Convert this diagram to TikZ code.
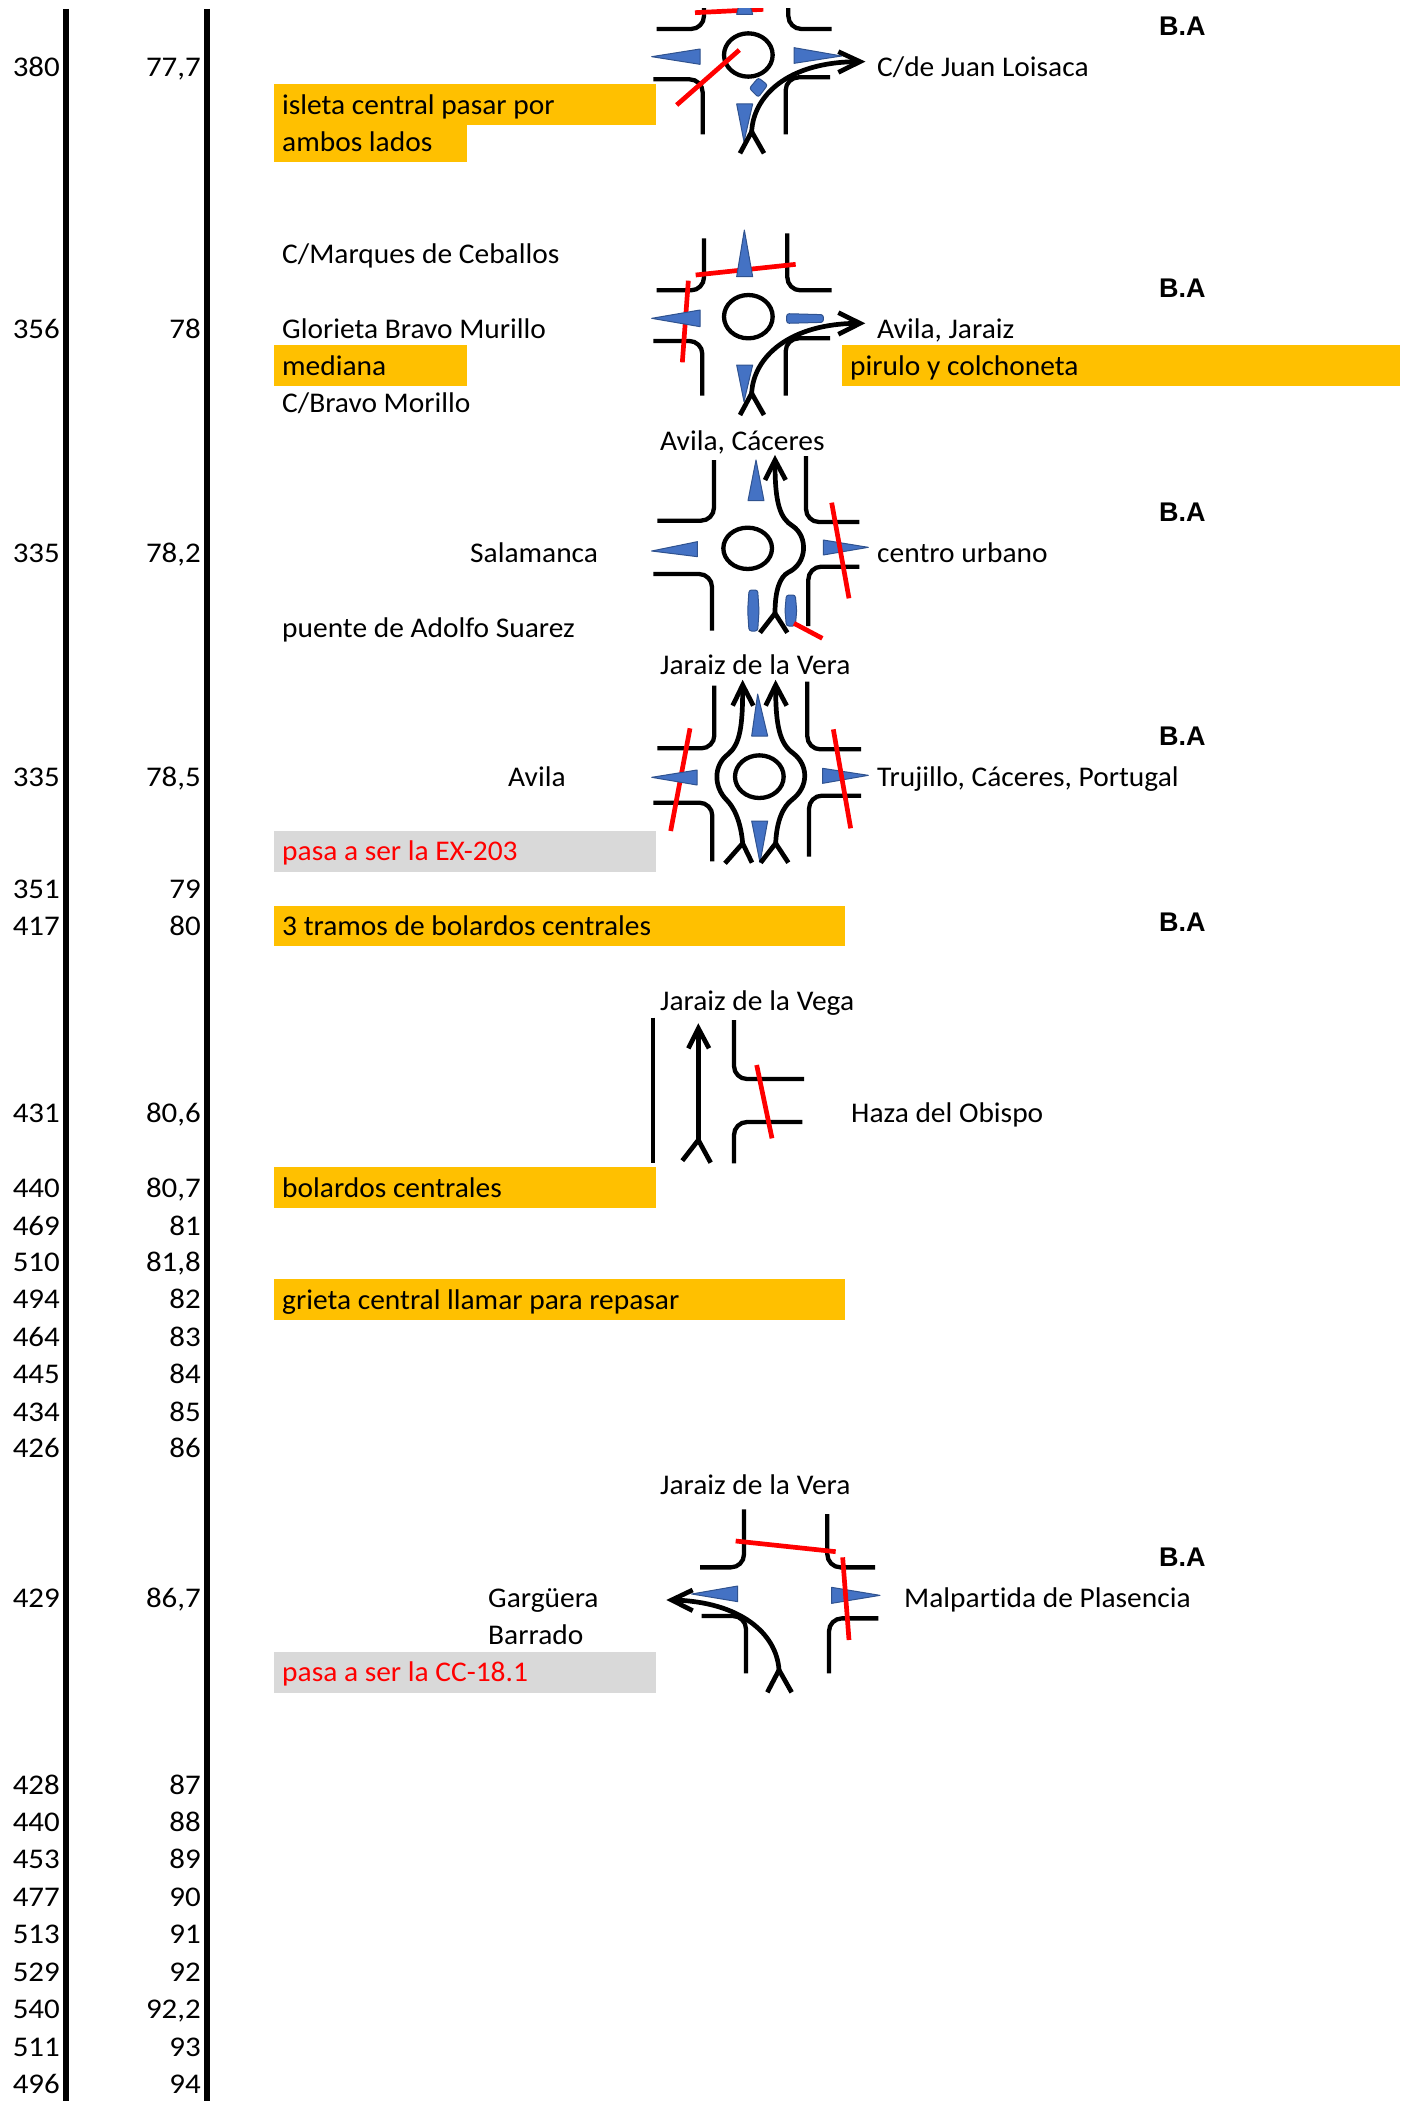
\documentclass[tikz,border=0pt]{standalone}
\usepackage{fontspec}
\setmainfont[FakeStretch=1.033,Ligatures=NoCommon]{Carlito}
\newfontfamily\numfont[FakeStretch=1.085]{Carlito}
\newfontfamily\arialfont{Liberation Sans}
\tikzset{
  tx/.style={inner sep=0pt,anchor=base west,font=\fontsize{28.5}{30}\selectfont,text=black},
  txr/.style={inner sep=0pt,anchor=base east,font=\numfont\fontsize{28.5}{30}\selectfont,text=black},
  redtx/.style={tx,text=red},
  ba/.style={inner sep=0pt,anchor=base west,font=\arialfont\bfseries\fontsize{27}{28}\selectfont},
  orangebar/.style={fill=barorange,draw=none},
  greybar/.style={fill=bargrey,draw=none},
  frameline/.style={line width=6pt,draw=black},
  road/.style={line width=4.3pt,draw=black,rounded corners=13pt},
  ring/.style={line width=4.3pt,draw=black},
  route/.style={line width=4.7pt,draw=black,line join=miter},
  cut/.style={line width=4.7pt,draw=red},
  island/.style={fill=islandblue,draw=islandedge,line width=1pt,line join=round},
  bar/.style={island,rounded corners=2.5pt},
  zoomed/.style={scale=0.33333},
}
\definecolor{barorange}{HTML}{FFC000}
\definecolor{bargrey}{HTML}{D9D9D9}
\definecolor{islandblue}{HTML}{4472C4}
\definecolor{islandedge}{HTML}{2F528F}
\begin{document}
\begin{tikzpicture}[x=1pt,y=-1pt]
\useasboundingbox (0,0) rectangle (1407,2101);
% frame lines
\draw[frameline] (66,9) -- (66,2101);
\draw[frameline] (207,9) -- (207,2101);
% coloured bars
\fill[orangebar] (274,84) rectangle (656,125);
\fill[orangebar] (274,125) rectangle (467,162);
\fill[orangebar] (274,345) rectangle (467,386);
\fill[orangebar] (842,345) rectangle (1400,386);
\fill[greybar] (274,831) rectangle (656,872);
\fill[orangebar] (274,906) rectangle (845,946);
\fill[orangebar] (274,1167) rectangle (656,1208);
\fill[orangebar] (274,1279) rectangle (845,1320);
\fill[greybar] (274,1652) rectangle (656,1693);
% number columns
\foreach \y/\a/\b [count=\i] in {67/380/{77,7},328/356/78,552/335/{78,2},776/335/{78,5},888.4/351/79,925/417/80,1112/431/{80,6},1187/440/{80,7},1225/469/81,1261/510/{81,8},1298/494/82,1336/464/83,1373/445/84,1411/434/85,1447/426/86,1597/429/{86,7},1784/428/87,1821/440/88,1858/453/89,1896/477/90,1933/513/91,1971/529/92,2008/540/{92,2},2046/511/93,2083/496/94}{
  \node[txr] (alt\i) at (60,\y+10) {\a};
  \node[txr] (km\i) at (201,\y+10) {\b};
}
% texts
\node[tx] (t1) at (282,114) {isleta central pasar por};
\node[tx] (t2) at (282,151.5) {ambos lados};
\node[tx] (t3) at (877,77) {C/de Juan Loisaca};
\node[tx] (t4) at (282,263) {C/Marques de Ceballos};
\node[tx] (t5) at (282,338) {Glorieta Bravo Murillo};
\node[tx] (t6) at (282,375.5) {mediana};
\node[tx] (t7) at (282,412) {C/Bravo Morillo};
\node[tx] (t8) at (877,338) {Avila, Jaraiz};
\node[tx] (t9) at (850,375.5) {pirulo y colchoneta};
\node[tx] (t10) at (660,450.5) {Avila, Cáceres};
\node[tx] (t11) at (470,562) {Salamanca};
\node[tx] (t12) at (877,562) {centro urbano};
\node[tx] (t13) at (282,637) {puente de Adolfo Suarez};
\node[tx] (t14) at (660,674.5) {Jaraiz de la Vera};
\node[tx] (t15) at (508,786) {Avila};
\node[tx] (t16) at (877,786) {Trujillo, Cáceres, Portugal};
\node[redtx] (t17) at (282,860.5) {pasa a ser la EX-203};
\node[tx] (t18) at (282,935.5) {3 tramos de bolardos centrales};
\node[tx] (t19) at (660,1010.5) {Jaraiz de la Vega};
\node[tx] (t20) at (851,1122) {Haza del Obispo};
\node[tx] (t21) at (282,1197) {bolardos centrales};
\node[tx] (t22) at (282,1309) {grieta central llamar para repasar};
\node[tx] (t23) at (660,1494.5) {Jaraiz de la Vera};
\node[tx] (t24) at (488,1607) {Gargüera};
\node[tx] (t25) at (488,1644.5) {Barrado};
\node[tx] (t26) at (904,1607) {Malpartida de Plasencia};
\node[redtx] (t27) at (282,1681.5) {pasa a ser la CC-18.1};
% B.A
\node[ba] (b1) at (1159,36) {B.A};
\node[ba] (b2) at (1159,297) {B.A};
\node[ba] (b3) at (1159,521) {B.A};
\node[ba] (b4) at (1159,745) {B.A};
\node[ba] (b5) at (1159,931) {B.A};
\node[ba] (b6) at (1159,1566) {B.A};
% roundabout 1
\begin{scope}
\clip (600,9) rectangle (900,200);
\begin{scope}[shift={(620,0)},zoomed]
\draw[road] (110,87) -- (252,87) -- (252,0);
\draw[road] (505,0) -- (505,87) -- (635,87);
\draw[road] (100,238) -- (248,238) -- (248,403);
\draw[road] (630,232) -- (497,232) -- (497,403);
\draw[ring] (385,165) ellipse [x radius=73,y radius=65];
\draw[cut] (170,315) -- (358,150);
\draw[cut] (225,38) -- (430,28);
\draw[island] (95,170) -- (240,147) -- (240,193) -- cycle;
\draw[island] (522,143) -- (522,190) -- (665,168) -- cycle;
\draw[island] (350,43) -- (398,43) -- (373,-40) -- cycle;
\draw[island] (350,312) -- (398,312) -- (372,425) -- cycle;
\draw[bar] (415,233) -- (443,255) -- (415,292) -- (388,265) -- cycle;
\draw[route] (395,395) .. controls (400,290) and (500,185) .. (715,185);
\draw[route] (655,155) -- (720,185) -- (655,217);
\draw[route] (360,460) -- (395,395) -- (432,460);
\end{scope}
\end{scope}
% roundabout 2
\begin{scope}[shift={(620,220)},zoomed]
\draw[road] (252,55) -- (252,211) -- (110,211);
\draw[road] (502,40) -- (502,211) -- (635,211);
\draw[road] (100,363) -- (247,363) -- (247,527);
\draw[road] (630,355) -- (497,355) -- (497,527);
\draw[ring] (385,290) ellipse [x radius=73,y radius=65];
\draw[cut] (227,165) -- (527,133);
\draw[cut] (205,182) -- (187,427);
\draw[island] (95,295) -- (240,270) -- (240,320) -- cycle;
\draw[island] (373,30) -- (398,170) -- (350,170) -- cycle;
\draw[island] (350,435) -- (398,435) -- (372,545) -- cycle;
\draw[bar] (500,281) -- (610,284) -- (610,307) -- (500,310) -- cycle;
\draw[route] (395,520) .. controls (400,410) and (510,310) .. (715,310);
\draw[route] (655,278) -- (720,310) -- (655,343);
\draw[route] (360,585) -- (395,520) -- (432,585);
\end{scope}
% roundabout 3
\begin{scope}[shift={(620,440)},zoomed]
\draw[road] (282,60) -- (282,242) -- (112,242);
\draw[road] (558,48) -- (558,246) -- (718,246);
\draw[road] (100,402) -- (276,402) -- (276,572);
\draw[road] (718,380) -- (565,380) -- (565,558);
\draw[ring] (383,325) ellipse [x radius=73,y radius=62];
\draw[island] (95,333) -- (232,305) -- (232,350) -- cycle;
\draw[island] (610,300) -- (610,345) -- (745,322) -- cycle;
\draw[island] (408,60) -- (432,182) -- (384,182) -- cycle;
\draw[bar] (387,450) -- (413,450) -- (417,512) -- (413,573) -- (387,573) -- (383,512) -- cycle;
\draw[bar] (499,465) -- (526,465) -- (530,512) -- (526,558) -- (499,558) -- (495,512) -- cycle;
\draw[cut] (635,188) -- (687,475);
\draw[cut] (522,550) -- (607,595);
\draw[route] (465,520) .. controls (465,450) and (480,410) .. (505,397) .. controls (562,370) and (565,290) .. (518,258) .. controls (480,235) and (465,190) .. (465,70);
\draw[route] (435,120) -- (465,60) -- (497,120);
\draw[route] (420,578) -- (465,520) -- (502,578);
\end{scope}
% roundabout 4
\begin{scope}[shift={(620,670)},zoomed]
\draw[road] (283,47) -- (283,235) -- (112,235);
\draw[road] (562,35) -- (562,238) -- (723,238);
\draw[road] (100,398) -- (277,398) -- (277,574);
\draw[road] (723,377) -- (567,377) -- (567,560);
\draw[ring] (418,320) ellipse [x radius=73,y radius=64];
\draw[cut] (210,175) -- (152,483);
\draw[island] (95,322) -- (231,300) -- (231,345) -- cycle;
\draw[island] (608,295) -- (608,340) -- (745,316) -- cycle;
\draw[island] (413,72) -- (443,198) -- (395,198) -- cycle;
\draw[island] (395,453) -- (443,453) -- (420,578) -- cycle;
\draw[cut] (640,178) -- (692,475);
\draw[route] (368,520) .. controls (362,450) and (340,410) .. (320,390) .. controls (280,350) and (280,285) .. (325,252) .. controls (360,222) and (368,170) .. (368,55);
\draw[route] (338,107) -- (368,45) -- (400,107);
\draw[route] (315,580) -- (368,520) -- (396,578);
\draw[route] (467,520) .. controls (470,450) and (490,410) .. (515,390) .. controls (568,350) and (565,285) .. (520,250) .. controls (480,222) and (467,170) .. (467,55);
\draw[route] (437,107) -- (467,45) -- (500,107);
\draw[route] (422,578) -- (467,520) -- (505,578);
\end{scope}
% junction 5
\begin{scope}[shift={(630,1000)},zoomed]
\draw[road] (68,53) -- (68,490);
\draw[road] (312,60) -- (312,237) -- (522,237);
\draw[road] (517,366) -- (312,366) -- (312,490);
\draw[route] (205,420) -- (205,90);
\draw[route] (175,145) -- (205,85) -- (237,145);
\draw[route] (157,482) -- (205,420) -- (242,488);
\draw[cut] (380,195) -- (426,415);
\end{scope}
% junction 6
\begin{scope}[shift={(650,1490)},zoomed]
\draw[road] (282,58) -- (282,232) -- (150,232);
\draw[road] (532,72) -- (532,232) -- (675,232);
\draw[road] (155,378) -- (288,378) -- (288,550);
\draw[road] (685,385) -- (537,385) -- (537,550);
\draw[island] (125,312) -- (263,288) -- (263,335) -- cycle;
\draw[island] (545,292) -- (545,340) -- (690,316) -- cycle;
\draw[cut] (257,153) -- (557,185);
\draw[cut] (578,202) -- (597,450);
\draw[route] (387,540) .. controls (380,430) and (270,335) .. (70,330);
\draw[route] (128,300) -- (65,330) -- (128,362);
\draw[route] (352,607) -- (387,540) -- (425,607);
\end{scope}
\end{tikzpicture}
\end{document}
